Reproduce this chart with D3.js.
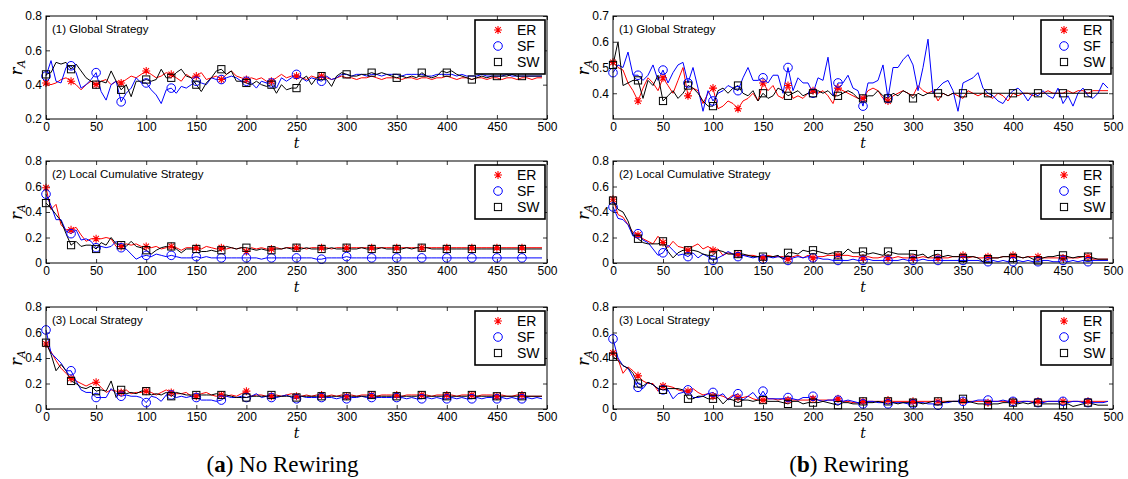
<!DOCTYPE html>
<html>
<head>
<meta charset="utf-8">
<style>
  body { margin: 0; background: #fff; }
  svg { font-family: "Liberation Sans", Arial, sans-serif; }
</style>
</head>
<body>
<svg width="1128" height="479"></svg>
<script src="https://cdnjs.cloudflare.com/ajax/libs/d3/7.8.5/d3.min.js"></script>
<script>
// one sample every 5 time steps, t = 0 .. 495
let steps = d3.range(0, 500, 5);

// ---- (a) No Rewiring ----
let erGlobalA = [
0.41,0.40,0.41,0.43,0.44,0.42,0.40,0.37,0.40,0.42,
0.40,0.42,0.43,0.40,0.42,0.41,0.43,0.45,0.44,0.46,
0.48,0.46,0.44,0.45,0.47,0.46,0.44,0.42,0.46,0.44,
0.45,0.47,0.43,0.44,0.45,0.43,0.46,0.48,0.45,0.44,
0.43,0.44,0.43,0.44,0.42,0.42,0.44,0.46,0.44,0.45,
0.45,0.44,0.43,0.45,0.44,0.45,0.44,0.43,0.44,0.45,
0.44,0.44,0.43,0.44,0.44,0.45,0.44,0.43,0.44,0.44,
0.44,0.43,0.44,0.44,0.43,0.44,0.44,0.43,0.44,0.44,
0.45,0.44,0.43,0.44,0.44,0.43,0.44,0.44,0.43,0.44,
0.44,0.43,0.44,0.44,0.43,0.44,0.44,0.43,0.44,0.44];
let sfGlobalA = [
0.45,0.54,0.42,0.41,0.50,0.51,0.47,0.38,0.40,0.43,
0.47,0.36,0.31,0.40,0.42,0.30,0.35,0.38,0.44,0.41,
0.41,0.37,0.34,0.29,0.37,0.38,0.35,0.39,0.38,0.40,
0.42,0.41,0.40,0.44,0.43,0.43,0.44,0.45,0.44,0.42,
0.42,0.41,0.38,0.42,0.41,0.41,0.38,0.44,0.42,0.44,
0.46,0.44,0.42,0.44,0.43,0.42,0.45,0.43,0.44,0.46,
0.46,0.45,0.46,0.46,0.45,0.46,0.46,0.45,0.46,0.46,
0.46,0.45,0.46,0.46,0.46,0.46,0.45,0.45,0.46,0.46,
0.46,0.46,0.45,0.46,0.45,0.45,0.45,0.46,0.45,0.45,
0.45,0.45,0.46,0.45,0.45,0.45,0.45,0.45,0.45,0.45];
let swGlobalA = [
0.46,0.47,0.53,0.52,0.53,0.49,0.52,0.48,0.44,0.42,
0.40,0.42,0.41,0.48,0.42,0.37,0.40,0.33,0.42,0.42,
0.43,0.42,0.43,0.49,0.44,0.44,0.47,0.49,0.45,0.44,
0.40,0.36,0.41,0.44,0.48,0.49,0.46,0.48,0.42,0.42,
0.41,0.40,0.42,0.40,0.39,0.40,0.35,0.40,0.37,0.38,
0.38,0.43,0.45,0.40,0.44,0.45,0.43,0.39,0.45,0.47,
0.46,0.45,0.45,0.46,0.46,0.47,0.46,0.47,0.46,0.45,
0.44,0.45,0.44,0.45,0.44,0.47,0.45,0.44,0.45,0.48,
0.47,0.48,0.46,0.45,0.44,0.43,0.44,0.45,0.44,0.45,
0.45,0.45,0.45,0.46,0.45,0.45,0.45,0.45,0.45,0.45];

let erCumA = [
0.59,0.42,0.46,0.30,0.26,0.26,0.28,0.22,0.17,0.19,
0.19,0.19,0.20,0.19,0.13,0.13,0.15,0.14,0.15,0.13,
0.13,0.12,0.13,0.11,0.12,0.13,0.12,0.10,0.12,0.12,
0.12,0.11,0.13,0.12,0.11,0.12,0.11,0.12,0.11,0.12,
0.09,0.12,0.11,0.12,0.11,0.11,0.12,0.11,0.12,0.12,
0.12,0.12,0.11,0.12,0.12,0.12,0.12,0.11,0.12,0.12,
0.12,0.12,0.12,0.12,0.12,0.12,0.12,0.12,0.12,0.12,
0.12,0.12,0.12,0.12,0.12,0.12,0.12,0.12,0.12,0.12,
0.12,0.12,0.12,0.12,0.12,0.12,0.12,0.12,0.12,0.12,
0.12,0.12,0.12,0.12,0.12,0.12,0.12,0.12,0.12,0.12];
let sfCumA = [
0.54,0.45,0.34,0.34,0.25,0.23,0.26,0.18,0.19,0.17,
0.12,0.13,0.12,0.13,0.17,0.12,0.11,0.07,0.03,0.05,
0.06,0.05,0.07,0.06,0.05,0.06,0.05,0.04,0.04,0.04,
0.05,0.04,0.05,0.04,0.04,0.04,0.04,0.04,0.04,0.04,
0.04,0.04,0.04,0.03,0.04,0.04,0.04,0.04,0.04,0.04,
0.04,0.04,0.04,0.04,0.03,0.03,0.04,0.04,0.04,0.04,
0.05,0.04,0.04,0.04,0.04,0.04,0.04,0.04,0.04,0.04,
0.04,0.04,0.04,0.04,0.04,0.04,0.04,0.04,0.04,0.04,
0.04,0.04,0.04,0.04,0.04,0.04,0.04,0.04,0.04,0.04,
0.04,0.04,0.04,0.04,0.04,0.04,0.04,0.04,0.04,0.04];
let swCumA = [
0.47,0.43,0.38,0.33,0.23,0.14,0.17,0.13,0.14,0.14,
0.11,0.16,0.14,0.20,0.15,0.14,0.13,0.17,0.13,0.12,
0.10,0.07,0.10,0.12,0.13,0.13,0.11,0.08,0.11,0.11,
0.11,0.09,0.09,0.10,0.09,0.10,0.13,0.12,0.11,0.12,
0.12,0.11,0.10,0.11,0.10,0.10,0.11,0.11,0.12,0.11,
0.12,0.11,0.12,0.11,0.11,0.11,0.11,0.12,0.11,0.11,
0.12,0.11,0.11,0.12,0.11,0.11,0.11,0.12,0.11,0.11,
0.11,0.11,0.12,0.11,0.12,0.12,0.12,0.11,0.11,0.11,
0.11,0.11,0.11,0.11,0.11,0.11,0.11,0.11,0.11,0.11,
0.11,0.11,0.11,0.11,0.11,0.11,0.11,0.11,0.11,0.11];

let erLocA = [
0.51,0.45,0.38,0.32,0.28,0.24,0.22,0.20,0.18,0.20,
0.21,0.17,0.13,0.15,0.14,0.13,0.15,0.12,0.13,0.13,
0.14,0.13,0.11,0.13,0.15,0.13,0.12,0.12,0.13,0.10,
0.10,0.12,0.13,0.11,0.10,0.11,0.10,0.11,0.10,0.12,
0.14,0.10,0.11,0.11,0.10,0.10,0.11,0.10,0.11,0.12,
0.10,0.10,0.11,0.10,0.11,0.11,0.10,0.11,0.10,0.11,
0.10,0.11,0.10,0.11,0.11,0.11,0.10,0.11,0.11,0.11,
0.11,0.10,0.11,0.11,0.11,0.11,0.11,0.10,0.11,0.11,
0.11,0.11,0.10,0.11,0.11,0.11,0.10,0.11,0.11,0.11,
0.10,0.11,0.10,0.10,0.11,0.11,0.10,0.10,0.10,0.10];
let sfLocA = [
0.62,0.44,0.40,0.36,0.30,0.30,0.22,0.15,0.13,0.13,
0.09,0.09,0.09,0.16,0.12,0.10,0.11,0.10,0.10,0.09,
0.05,0.10,0.09,0.06,0.11,0.11,0.09,0.10,0.09,0.10,
0.09,0.07,0.07,0.07,0.06,0.07,0.10,0.09,0.09,0.10,
0.09,0.10,0.12,0.09,0.10,0.09,0.09,0.10,0.11,0.09,
0.08,0.10,0.09,0.09,0.09,0.09,0.09,0.09,0.08,0.09,
0.08,0.09,0.09,0.10,0.09,0.09,0.09,0.09,0.09,0.09,
0.09,0.09,0.08,0.09,0.08,0.08,0.09,0.08,0.09,0.08,
0.08,0.09,0.08,0.09,0.08,0.08,0.09,0.08,0.09,0.09,
0.08,0.09,0.08,0.09,0.08,0.08,0.09,0.08,0.09,0.08];
let swLocA = [
0.52,0.43,0.30,0.35,0.30,0.22,0.20,0.17,0.16,0.18,
0.14,0.15,0.14,0.22,0.09,0.15,0.12,0.13,0.12,0.14,
0.14,0.11,0.12,0.11,0.13,0.10,0.13,0.12,0.11,0.11,
0.11,0.11,0.11,0.11,0.12,0.11,0.11,0.10,0.09,0.09,
0.09,0.10,0.10,0.10,0.10,0.11,0.10,0.10,0.10,0.10,
0.09,0.10,0.10,0.10,0.10,0.10,0.10,0.10,0.10,0.10,
0.10,0.10,0.10,0.10,0.10,0.11,0.10,0.10,0.10,0.10,
0.10,0.10,0.10,0.10,0.10,0.11,0.10,0.10,0.10,0.10,
0.10,0.10,0.10,0.10,0.10,0.11,0.10,0.10,0.10,0.10,
0.10,0.10,0.10,0.10,0.10,0.10,0.10,0.10,0.10,0.10];

// ---- (b) Rewiring ----
let erGlobalB = [
0.52,0.50,0.49,0.44,0.41,0.37,0.42,0.46,0.44,0.41,
0.46,0.43,0.40,0.45,0.50,0.39,0.42,0.41,0.36,0.40,
0.42,0.34,0.35,0.37,0.36,0.34,0.37,0.38,0.40,0.37,
0.44,0.41,0.43,0.39,0.38,0.43,0.38,0.39,0.38,0.40,
0.41,0.40,0.41,0.39,0.36,0.42,0.41,0.40,0.39,0.38,
0.38,0.41,0.42,0.41,0.38,0.37,0.39,0.40,0.41,0.40,
0.39,0.43,0.41,0.40,0.41,0.37,0.40,0.39,0.40,0.39,
0.38,0.41,0.40,0.39,0.40,0.39,0.38,0.40,0.39,0.37,
0.40,0.39,0.40,0.40,0.39,0.40,0.40,0.41,0.40,0.40,
0.40,0.41,0.40,0.41,0.41,0.40,0.41,0.41,0.41,0.41];
let sfGlobalB = [
0.48,0.51,0.50,0.56,0.47,0.47,0.45,0.47,0.51,0.45,
0.49,0.44,0.48,0.51,0.52,0.44,0.50,0.42,0.33,0.41,
0.37,0.40,0.41,0.43,0.42,0.41,0.46,0.50,0.45,0.45,
0.46,0.44,0.47,0.47,0.40,0.50,0.41,0.46,0.44,0.44,
0.40,0.46,0.45,0.54,0.39,0.44,0.44,0.47,0.42,0.41,
0.35,0.44,0.44,0.45,0.51,0.38,0.50,0.50,0.53,0.55,
0.51,0.41,0.50,0.61,0.40,0.42,0.44,0.45,0.41,0.33,
0.44,0.45,0.46,0.48,0.42,0.40,0.39,0.37,0.36,0.39,
0.41,0.42,0.40,0.37,0.40,0.39,0.41,0.39,0.38,0.42,
0.36,0.39,0.35,0.40,0.42,0.39,0.38,0.40,0.44,0.42];
let swGlobalB = [
0.51,0.60,0.43,0.44,0.45,0.45,0.38,0.45,0.43,0.47,
0.37,0.39,0.41,0.38,0.40,0.43,0.42,0.40,0.37,0.35,
0.35,0.41,0.42,0.40,0.42,0.43,0.40,0.39,0.41,0.37,
0.40,0.38,0.39,0.42,0.41,0.39,0.40,0.41,0.39,0.40,
0.40,0.41,0.40,0.41,0.39,0.39,0.40,0.41,0.40,0.38,
0.38,0.39,0.39,0.41,0.39,0.38,0.40,0.39,0.41,0.40,
0.38,0.40,0.39,0.40,0.40,0.40,0.40,0.39,0.40,0.40,
0.40,0.40,0.40,0.40,0.40,0.40,0.40,0.40,0.40,0.40,
0.40,0.40,0.40,0.40,0.40,0.40,0.40,0.40,0.40,0.40,
0.40,0.40,0.40,0.40,0.40,0.40,0.40,0.40,0.40,0.40];

let erCumB = [
0.50,0.38,0.36,0.30,0.24,0.22,0.19,0.17,0.15,0.21,
0.16,0.12,0.17,0.13,0.12,0.10,0.13,0.15,0.11,0.13,
0.10,0.11,0.06,0.08,0.07,0.07,0.06,0.06,0.06,0.05,
0.04,0.06,0.05,0.05,0.05,0.03,0.05,0.06,0.04,0.06,
0.04,0.05,0.05,0.06,0.06,0.06,0.06,0.06,0.05,0.05,
0.04,0.05,0.04,0.04,0.05,0.04,0.04,0.05,0.04,0.04,
0.04,0.04,0.05,0.04,0.04,0.04,0.04,0.04,0.05,0.05,
0.06,0.04,0.05,0.04,0.04,0.05,0.04,0.04,0.05,0.05,
0.06,0.05,0.04,0.05,0.05,0.05,0.04,0.04,0.04,0.04,
0.04,0.04,0.04,0.04,0.05,0.05,0.03,0.03,0.03,0.03];
let sfCumB = [
0.44,0.35,0.34,0.30,0.21,0.23,0.18,0.16,0.11,0.06,
0.08,0.14,0.10,0.06,0.07,0.05,0.08,0.04,0.07,0.05,
0.02,0.04,0.06,0.09,0.07,0.05,0.06,0.05,0.04,0.05,
0.03,0.05,0.04,0.05,0.04,0.02,0.04,0.05,0.04,0.05,
0.04,0.04,0.03,0.03,0.02,0.02,0.02,0.02,0.03,0.02,
0.02,0.03,0.02,0.02,0.02,0.02,0.02,0.02,0.03,0.02,
0.02,0.02,0.03,0.02,0.02,0.02,0.02,0.02,0.02,0.02,
0.02,0.02,0.02,0.02,0.01,0.01,0.02,0.01,0.02,0.01,
0.01,0.02,0.01,0.02,0.01,0.01,0.02,0.02,0.01,0.01,
0.02,0.01,0.02,0.01,0.02,0.01,0.02,0.02,0.02,0.02];
let swCumB = [
0.49,0.42,0.40,0.33,0.22,0.19,0.16,0.15,0.15,0.15,
0.17,0.09,0.04,0.08,0.10,0.10,0.10,0.09,0.07,0.06,
0.06,0.10,0.09,0.07,0.07,0.07,0.07,0.06,0.05,0.05,
0.05,0.05,0.05,0.06,0.03,0.08,0.08,0.07,0.10,0.09,
0.10,0.09,0.08,0.07,0.08,0.06,0.07,0.11,0.08,0.08,
0.09,0.07,0.08,0.07,0.06,0.09,0.08,0.07,0.07,0.07,
0.07,0.06,0.07,0.04,0.06,0.07,0.05,0.06,0.05,0.05,
0.04,0.05,0.05,0.04,0.01,0.03,0.04,0.04,0.05,0.05,
0.04,0.05,0.04,0.05,0.03,0.02,0.04,0.05,0.05,0.06,
0.06,0.05,0.04,0.05,0.05,0.05,0.04,0.03,0.03,0.03];

let erLocB = [
0.44,0.39,0.28,0.33,0.30,0.26,0.22,0.20,0.20,0.14,
0.18,0.18,0.17,0.15,0.14,0.14,0.16,0.13,0.11,0.12,
0.10,0.11,0.10,0.08,0.11,0.09,0.09,0.10,0.08,0.07,
0.07,0.08,0.08,0.07,0.08,0.07,0.07,0.07,0.07,0.07,
0.08,0.07,0.07,0.07,0.07,0.08,0.06,0.06,0.05,0.05,
0.06,0.06,0.06,0.06,0.06,0.07,0.06,0.06,0.06,0.06,
0.06,0.06,0.06,0.06,0.06,0.06,0.06,0.06,0.06,0.06,
0.06,0.06,0.06,0.06,0.06,0.05,0.06,0.06,0.06,0.06,
0.06,0.06,0.06,0.06,0.06,0.06,0.06,0.06,0.06,0.06,
0.06,0.06,0.06,0.06,0.06,0.06,0.06,0.06,0.06,0.06];
let sfLocB = [
0.55,0.40,0.34,0.32,0.25,0.17,0.16,0.21,0.19,0.16,
0.15,0.15,0.08,0.12,0.13,0.15,0.09,0.09,0.10,0.12,
0.13,0.10,0.12,0.07,0.10,0.12,0.07,0.10,0.13,0.08,
0.14,0.08,0.08,0.08,0.08,0.09,0.08,0.07,0.09,0.09,
0.10,0.07,0.06,0.07,0.07,0.07,0.06,0.07,0.06,0.05,
0.04,0.06,0.06,0.05,0.05,0.04,0.05,0.05,0.05,0.04,
0.04,0.05,0.05,0.04,0.04,0.03,0.05,0.05,0.06,0.06,
0.06,0.05,0.06,0.07,0.07,0.07,0.06,0.06,0.07,0.06,
0.06,0.05,0.06,0.06,0.05,0.05,0.05,0.06,0.06,0.06,
0.06,0.05,0.06,0.06,0.05,0.05,0.05,0.05,0.05,0.06];
let swLocB = [
0.41,0.38,0.34,0.32,0.28,0.20,0.18,0.21,0.19,0.16,
0.15,0.16,0.16,0.16,0.15,0.08,0.08,0.10,0.10,0.08,
0.08,0.09,0.04,0.08,0.07,0.05,0.07,0.07,0.06,0.07,
0.07,0.06,0.06,0.06,0.05,0.04,0.06,0.06,0.04,0.05,
0.05,0.05,0.06,0.05,0.04,0.03,0.05,0.05,0.04,0.04,
0.06,0.05,0.05,0.06,0.05,0.06,0.05,0.04,0.05,0.05,
0.05,0.05,0.04,0.05,0.06,0.06,0.05,0.06,0.06,0.06,
0.08,0.06,0.05,0.04,0.04,0.03,0.04,0.04,0.05,0.05,
0.05,0.04,0.05,0.04,0.05,0.05,0.04,0.04,0.04,0.04,
0.03,0.04,0.02,0.03,0.04,0.05,0.04,0.03,0.03,0.03];

let xTicks = [0, 50, 100, 150, 200, 250, 300, 350, 400, 450, 500];
let networks = ["ER", "SF", "SW"];
let captions = [["a", "No Rewiring"], ["b", "Rewiring"]];

// last t carrying a marker, per series (ER, SF, SW)
let globalMarkEnd = [275, 275, 475];
let localMarkEnd = [475, 475, 475];

let panels = [
  { col: 0, row: 0, title: "(1) Global Strategy", yDomain: [0.2, 0.8], yTicks: [0.2, 0.4, 0.6, 0.8], series: [erGlobalA, sfGlobalA, swGlobalA], markEnd: globalMarkEnd },
  { col: 0, row: 1, title: "(2) Local Cumulative Strategy", yDomain: [0, 0.8], yTicks: [0, 0.2, 0.4, 0.6, 0.8], series: [erCumA, sfCumA, swCumA], markEnd: localMarkEnd },
  { col: 0, row: 2, title: "(3) Local Strategy", yDomain: [0, 0.8], yTicks: [0, 0.2, 0.4, 0.6, 0.8], series: [erLocA, sfLocA, swLocA], markEnd: localMarkEnd },
  { col: 1, row: 0, title: "(1) Global Strategy", yDomain: [0.3, 0.7], yTicks: [0.4, 0.5, 0.6, 0.7], series: [erGlobalB, sfGlobalB, swGlobalB], markEnd: globalMarkEnd },
  { col: 1, row: 1, title: "(2) Local Cumulative Strategy", yDomain: [0, 0.8], yTicks: [0, 0.2, 0.4, 0.6, 0.8], series: [erCumB, sfCumB, swCumB], markEnd: localMarkEnd },
  { col: 1, row: 2, title: "(3) Local Strategy", yDomain: [0, 0.8], yTicks: [0, 0.2, 0.4, 0.6, 0.8], series: [erLocB, sfLocB, swLocB], markEnd: localMarkEnd }
];

let colX = [[46, 547], [613, 1113]];
let rowY = [[16, 119], [161, 263], [307, 409]];
let colors = ["#ff0000", "#0000ff", "#000000"];
let serif = "'DejaVu Serif', 'Liberation Serif', serif";

let svg = d3.select("svg");
svg.append("rect").attr("width", 1128).attr("height", 479).attr("fill", "#fff");

// marker shapes: star (MATLAB '*'), open circle, open square
function drawMarker(g, k, color) {
  if (k === 0) {
    g.append("path")
      .attr("d", "M-4,0H4M0,-4V4M-2.8,-2.8L2.8,2.8M-2.8,2.8L2.8,-2.8")
      .attr("stroke", color).attr("stroke-width", 1.1).attr("fill", "none");
  } else if (k === 1) {
    g.append("circle").attr("r", 4.3)
      .attr("stroke", color).attr("stroke-width", 1).attr("fill", "none");
  } else {
    g.append("rect").attr("x", -3.6).attr("y", -3.6).attr("width", 7.2).attr("height", 7.2)
      .attr("stroke", color).attr("stroke-width", 1).attr("fill", "none");
  }
}

let fmt = d => String(+d.toFixed(1));

panels.forEach(p => {
  let [x0, x1] = colX[p.col];
  let [y0, y1] = rowY[p.row];
  let x = d3.scaleLinear().domain([0, 500]).range([x0, x1]);
  let y = d3.scaleLinear().domain(p.yDomain).range([y1, y0]);
  let g = svg.append("g");

  // axes with inward ticks on all four sides
  g.append("g").attr("transform", `translate(0,${y1})`)
    .call(d3.axisBottom(x).tickValues(xTicks).tickSizeInner(-4).tickSizeOuter(0).tickPadding(3).tickFormat(d3.format("d")));
  g.append("g").attr("transform", `translate(0,${y0})`)
    .call(d3.axisTop(x).tickValues(xTicks).tickSizeInner(-4).tickSizeOuter(0).tickFormat(""));
  g.append("g").attr("transform", `translate(${x0},0)`)
    .call(d3.axisLeft(y).tickValues(p.yTicks).tickSizeInner(-4).tickSizeOuter(0).tickPadding(4).tickFormat(fmt));
  g.append("g").attr("transform", `translate(${x1},0)`)
    .call(d3.axisRight(y).tickValues(p.yTicks).tickSizeInner(-4).tickSizeOuter(0).tickFormat(""));
  g.selectAll(".domain").remove();
  g.selectAll(".tick line").attr("stroke", "#000").attr("stroke-width", 0.8);
  g.selectAll(".tick text").attr("font-size", 12).style("font-family", "'Liberation Sans', Arial, sans-serif");

  // series lines
  let line = d3.line().x((d, i) => x(steps[i])).y(d => y(d));
  p.series.forEach((vals, k) => {
    g.append("path").datum(vals)
      .attr("d", line)
      .attr("fill", "none")
      .attr("stroke", colors[k])
      .attr("stroke-width", 1);
  });
  // markers every 25 steps
  p.series.forEach((vals, k) => {
    vals.forEach((v, i) => {
      if (steps[i] % 25 !== 0 || steps[i] > p.markEnd[k]) return;
      let m = g.append("g").attr("transform", `translate(${x(steps[i])},${y(v)})`);
      drawMarker(m, k, colors[k]);
    });
  });

  // frame
  g.append("rect").attr("x", x0).attr("y", y0).attr("width", x1 - x0).attr("height", y1 - y0)
    .attr("fill", "none").attr("stroke", "#000").attr("stroke-width", 1);

  // panel title
  g.append("text").attr("x", x0 + 6).attr("y", y0 + 17)
    .attr("font-size", 11.5).text(p.title);

  // axis labels
  g.append("text").attr("x", (x0 + x1) / 2).attr("y", y1 + 29)
    .attr("text-anchor", "middle")
    .style("font-family", serif).style("font-style", "italic").attr("font-size", 14)
    .text("t");
  let yl = g.append("text")
    .attr("transform", `translate(${x0 - 24},${(y0 + y1) / 2}) rotate(-90)`)
    .attr("text-anchor", "middle")
    .style("font-family", serif).style("font-style", "italic").attr("font-size", 16);
  yl.append("tspan").text("r");
  yl.append("tspan").attr("font-size", 11).attr("dy", 3).text("A");

  // legend
  let lx = x1 - 72, ly = y0 + 4;
  let lg = g.append("g");
  lg.append("rect").attr("x", lx).attr("y", ly).attr("width", 70).attr("height", 54)
    .attr("fill", "#fff").attr("stroke", "#000").attr("stroke-width", 1.6);
  networks.forEach((name, k) => {
    let cy = ly + 10 + k * 16;
    drawMarker(lg.append("g").attr("transform", `translate(${lx + 23},${cy})`), k, colors[k]);
    lg.append("text").attr("x", lx + 42).attr("y", cy + 5)
      .attr("font-size", 14).text(name);
  });
});

// captions under each column
captions.forEach((c, i) => {
  let cx = (colX[i][0] + colX[i][1]) / 2 - 14;
  let t = svg.append("text").attr("x", cx).attr("y", 472)
    .attr("text-anchor", "middle")
    .style("font-family", "'Liberation Serif', serif").attr("font-size", 23);
  t.append("tspan").text("(");
  t.append("tspan").attr("font-weight", "bold").text(c[0]);
  t.append("tspan").text(") " + c[1]);
});
</script>
</body>
</html>
